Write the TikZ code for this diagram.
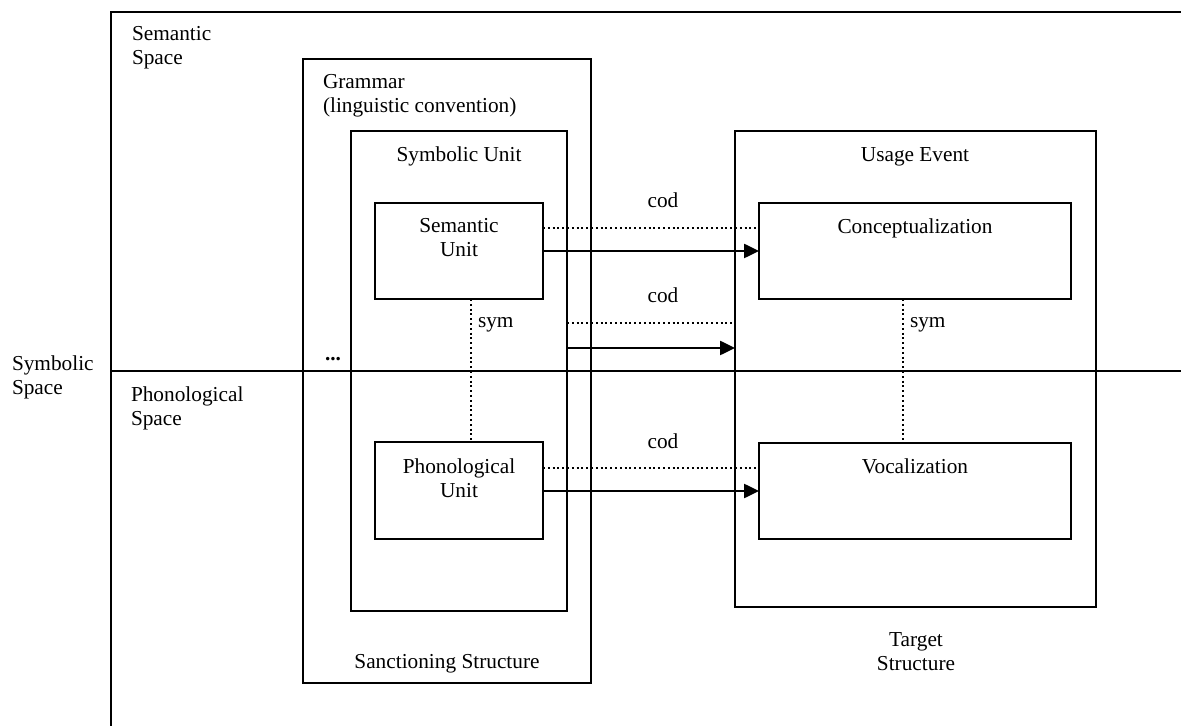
\documentclass[tikz,border=0pt]{standalone}
\usepackage{fontspec}
\setmainfont{Liberation Serif}
\usetikzlibrary{arrows.meta,fit}
\begin{document}
\begin{tikzpicture}[x=0.5pt,y=-0.5pt,
  every node/.style={font=\fontsize{10.65}{12}\selectfont, inner sep=0pt, outer sep=0pt},
  box/.style={draw, line width=0.85pt, inner sep=0pt},
  frame/.style={line width=0.85pt},
  arr/.style={line width=1.25pt, -{Triangle[length=7.5pt,width=7pt]}},
  dotline/.style={line width=1pt, dash pattern=on 1pt off 1.4pt},
  lbl/.style={align=left, anchor=west},
  clbl/.style={align=center}]
\useasboundingbox (0,0) rectangle (1181,726);
% spaces
\draw[frame] (111,726) -- (111,12) -- (1181,12);
\draw[frame] (111,371) -- (1181,371);
% boxes
\node[box, fit={(303,59) (591,683)}] (grammar) {};
\node[box, fit={(351,131) (567,611)}] (symu) {};
\node[box, fit={(375,203) (543,299)}] (sem) {};
\node[box, fit={(375,442) (543,539)}] (phon) {};
\node[box, fit={(735,131) (1096,607)}] (usage) {};
\node[box, fit={(759,203) (1071,299)}] (conc) {};
\node[box, fit={(759,443) (1071,539)}] (voc) {};
% labels
\node[lbl] (semspace) at (132,48) {Semantic\\Space};
\node[lbl] (symspace) at (12,377.5) {Symbolic\\Space};
\node[lbl] (phonspace) at (131,408.5) {Phonological\\Space};
\node[lbl] (gramlbl) at (323,96) {Grammar\\(linguistic convention)};
\node[anchor=base] (symulbl) at (459,162) {Symbolic Unit};
\node[clbl] (semlbl) at (459,238) {Semantic\\Unit};
\node[clbl] (phonlbl) at (459,478) {Phonological\\Unit};
\node[anchor=base] (usagelbl) at (915,162) {Usage Event};
\node[anchor=base] (conclbl) at (915,234) {Conceptualization};
\node[anchor=base] (voclbl) at (915,473) {Vocalization};
\node[anchor=base] (sanct) at (447,668) {Sanctioning Structure};
\node[clbl] (target) at (916,652) {Target\\Structure};
\node[anchor=base west] (dots) at (325,361) {\textbf{...}};
% connectors
\coordinate (c2dot) at (0,323);
\coordinate (c2arr) at (0,348);
\draw[dotline] ([yshift=11.5pt]sem.east) -- ([yshift=11.5pt]conc.west);
\draw[arr] (sem.east) -- (conc.west);
\draw[dotline] (symu.east |- c2dot) -- (usage.west |- c2dot);
\draw[arr] (symu.east |- c2arr) -- (usage.west |- c2arr);
\draw[dotline] ([yshift=11.5pt]voc.west -| phon.east) -- ([yshift=11.5pt]voc.west);
\draw[arr] (voc.west -| phon.east) -- (voc.west);
\draw[dotline] ([xshift=6pt]sem.south) -- ([xshift=6pt]phon.north);
\draw[dotline] ([xshift=-6pt]conc.south) -- ([xshift=-6pt]voc.north);
% connector labels
\node[anchor=base] (cod1) at (663,208) {cod};
\node[anchor=base] (cod2) at (663,303) {cod};
\node[anchor=base] (cod3) at (663,448) {cod};
\node[anchor=base west] (sym1) at (478,328) {sym};
\node[anchor=base west] (sym2) at (910,328) {sym};
\end{tikzpicture}
\end{document}
